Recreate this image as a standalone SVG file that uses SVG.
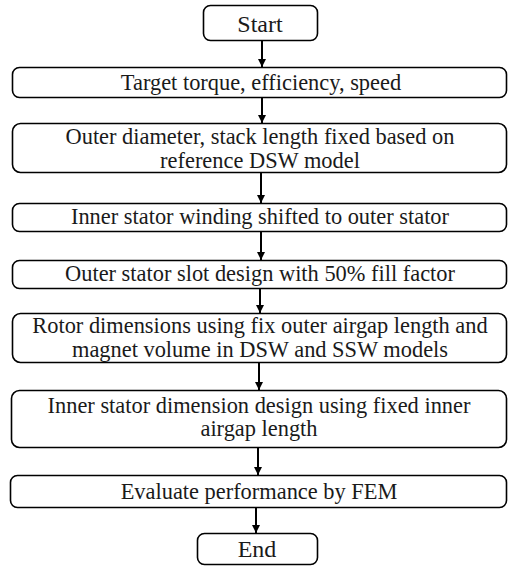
<svg xmlns="http://www.w3.org/2000/svg" width="508" height="567" viewBox="0 0 508 567">
  <defs>
    <marker id="arrow" viewBox="0 0 10 10" refX="10" refY="5" markerWidth="8" markerHeight="8" markerUnits="userSpaceOnUse" orient="auto">
      <path d="M0,0 L10,5 L0,10 z" fill="#000"/>
    </marker>
  </defs>
  <style>
    .box { fill: #fff; stroke: #000; stroke-width: 1.6; }
    .edge { stroke: #000; stroke-width: 2; fill: none; marker-end: url(#arrow); }
    .lbl { font-family: "Liberation Serif", "Times New Roman", serif; font-size: 22.4px; fill: #1a1a1a; text-anchor: middle; }
    .term { font-size: 24px; }
  </style>
  <rect width="508" height="567" fill="#fff"/>

  <!-- vertical flow arrows between consecutive steps -->
  <g id="connectors">
    <line class="edge" x1="262" y1="41" x2="262" y2="67"/>
    <line class="edge" x1="262" y1="97" x2="262" y2="123"/>
    <line class="edge" x1="261" y1="172" x2="261" y2="203"/>
    <line class="edge" x1="261" y1="231" x2="261" y2="260"/>
    <line class="edge" x1="260" y1="288" x2="260" y2="313"/>
    <line class="edge" x1="259" y1="363" x2="259" y2="390"/>
    <line class="edge" x1="258" y1="448" x2="258" y2="475"/>
    <line class="edge" x1="256" y1="508" x2="256" y2="533"/>
  </g>

  <g id="start">
    <rect class="box" x="203.5" y="5.5" width="114" height="35" rx="7"/>
    <text class="lbl term" x="260" y="32">Start</text>
  </g>
  <g id="targets">
    <rect class="box" x="12.5" y="67.5" width="494" height="30" rx="7"/>
    <text class="lbl" x="261" y="90">Target torque, efficiency, speed</text>
  </g>
  <g id="outer-dimensions">
    <rect class="box" x="12.5" y="123.5" width="494" height="49" rx="8"/>
    <text class="lbl" x="260" y="144">Outer diameter, stack length fixed based on</text>
    <text class="lbl" x="260" y="168">reference DSW model</text>
  </g>
  <g id="winding-shift">
    <rect class="box" x="12.5" y="203.5" width="494" height="28" rx="7"/>
    <text class="lbl" x="260" y="224">Inner stator winding shifted to outer stator</text>
  </g>
  <g id="slot-design">
    <rect class="box" x="12.5" y="260.5" width="494" height="28" rx="7"/>
    <text class="lbl" x="260" y="281">Outer stator slot design with 50% fill factor</text>
  </g>
  <g id="rotor-dimensions">
    <rect class="box" x="12.5" y="313.5" width="494" height="49" rx="8"/>
    <text class="lbl" x="260" y="333">Rotor dimensions using fix outer airgap length and</text>
    <text class="lbl" x="260" y="357">magnet volume in DSW and SSW models</text>
  </g>
  <g id="inner-stator">
    <rect class="box" x="11.5" y="390.5" width="495" height="57" rx="8"/>
    <text class="lbl" x="259" y="413">Inner stator dimension design using fixed inner</text>
    <text class="lbl" x="259" y="436">airgap length</text>
  </g>
  <g id="evaluate">
    <rect class="box" x="10.5" y="475.5" width="496" height="32" rx="7"/>
    <text class="lbl" x="259" y="499">Evaluate performance by FEM</text>
  </g>
  <g id="end">
    <rect class="box" x="197.5" y="533.5" width="120" height="31" rx="7"/>
    <text class="lbl term" x="257" y="557">End</text>
  </g>
</svg>
